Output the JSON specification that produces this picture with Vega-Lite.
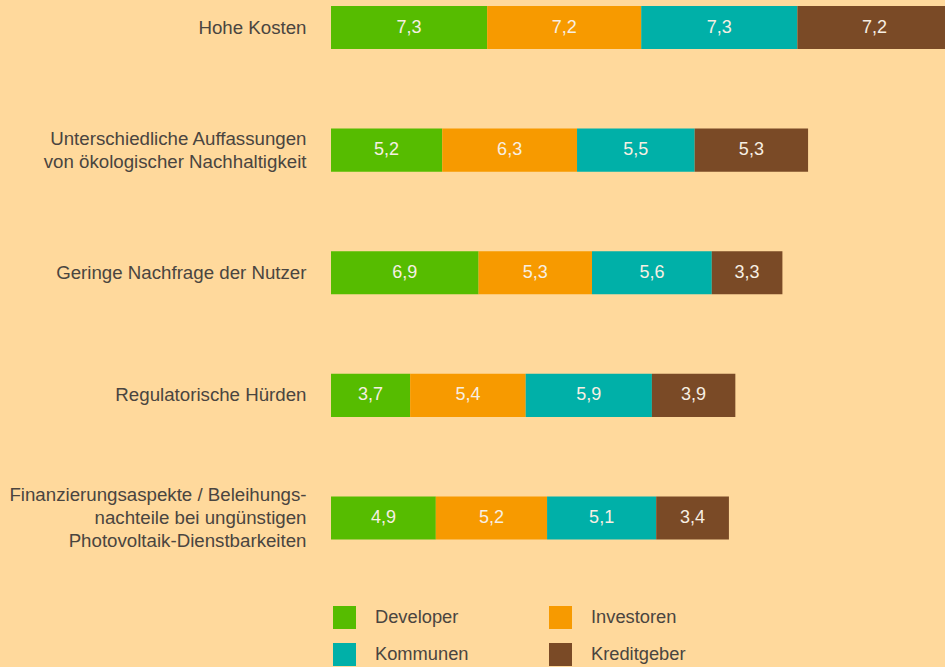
{
  "$schema": "https://vega.github.io/schema/vega-lite/v6.json",
  "width": 614,
  "height": 545.5,
  "autosize": {"type": "none"},
  "padding": {"left": 331, "top": 0, "right": 0, "bottom": 121.5},
  "background": "#FFD99C",
  "config": {
    "view": {"stroke": null},
    "font": "Liberation Sans",
    "locale": {"number": {"decimal": ",", "thousands": ".", "grouping": [3], "currency": ["", " €"]}}
  },
  "data": {
    "values": [
      {"kategorie": "Hohe Kosten", "gruppe": "Developer", "wert": 7.3},
      {"kategorie": "Hohe Kosten", "gruppe": "Investoren", "wert": 7.2},
      {"kategorie": "Hohe Kosten", "gruppe": "Kommunen", "wert": 7.3},
      {"kategorie": "Hohe Kosten", "gruppe": "Kreditgeber", "wert": 7.2},
      {"kategorie": "Unterschiedliche Auffassungen|von ökologischer Nachhaltigkeit", "gruppe": "Developer", "wert": 5.2},
      {"kategorie": "Unterschiedliche Auffassungen|von ökologischer Nachhaltigkeit", "gruppe": "Investoren", "wert": 6.3},
      {"kategorie": "Unterschiedliche Auffassungen|von ökologischer Nachhaltigkeit", "gruppe": "Kommunen", "wert": 5.5},
      {"kategorie": "Unterschiedliche Auffassungen|von ökologischer Nachhaltigkeit", "gruppe": "Kreditgeber", "wert": 5.3},
      {"kategorie": "Geringe Nachfrage der Nutzer", "gruppe": "Developer", "wert": 6.9},
      {"kategorie": "Geringe Nachfrage der Nutzer", "gruppe": "Investoren", "wert": 5.3},
      {"kategorie": "Geringe Nachfrage der Nutzer", "gruppe": "Kommunen", "wert": 5.6},
      {"kategorie": "Geringe Nachfrage der Nutzer", "gruppe": "Kreditgeber", "wert": 3.3},
      {"kategorie": "Regulatorische Hürden", "gruppe": "Developer", "wert": 3.7},
      {"kategorie": "Regulatorische Hürden", "gruppe": "Investoren", "wert": 5.4},
      {"kategorie": "Regulatorische Hürden", "gruppe": "Kommunen", "wert": 5.9},
      {"kategorie": "Regulatorische Hürden", "gruppe": "Kreditgeber", "wert": 3.9},
      {"kategorie": "Finanzierungsaspekte / Beleihungs-|nachteile bei ungünstigen|Photovoltaik-Dienstbarkeiten", "gruppe": "Developer", "wert": 4.9},
      {"kategorie": "Finanzierungsaspekte / Beleihungs-|nachteile bei ungünstigen|Photovoltaik-Dienstbarkeiten", "gruppe": "Investoren", "wert": 5.2},
      {"kategorie": "Finanzierungsaspekte / Beleihungs-|nachteile bei ungünstigen|Photovoltaik-Dienstbarkeiten", "gruppe": "Kommunen", "wert": 5.1},
      {"kategorie": "Finanzierungsaspekte / Beleihungs-|nachteile bei ungünstigen|Photovoltaik-Dienstbarkeiten", "gruppe": "Kreditgeber", "wert": 3.4}
    ]
  },
  "transform": [
    {"stack": "wert", "groupby": ["kategorie"], "sort": [{"field": "gruppe", "order": "ascending"}], "as": ["x0", "x1"]},
    {"calculate": "(datum.x0 + datum.x1) / 2", "as": "xm"}
  ],
  "encoding": {
    "y": {
      "field": "kategorie",
      "type": "nominal",
      "sort": null,
      "scale": {"type": "band", "paddingInner": 0.649, "paddingOuter": 0.049},
      "axis": {
        "title": null,
        "domain": false,
        "ticks": false,
        "labelPadding": 25,
        "labelFontSize": 18.7,
        "labelColor": "#4A4540",
        "labelLineHeight": 23,
        "labelAlign": "right",
        "labelBaseline": "middle",
        "labelLimit": 400,
        "labelExpr": "split(datum.label, '|')",
        "labelOffset": {
          "condition": [
            {"test": "length(split(datum.value, '|')) == 3", "value": -23},
            {"test": "length(split(datum.value, '|')) == 2", "value": -11.5}
          ],
          "value": 0
        }
      }
    }
  },
  "layer": [
    {
      "mark": {"type": "bar", "clip": true},
      "encoding": {
        "x": {"field": "x0", "type": "quantitative", "scale": {"domain": [0, 28.7], "nice": false, "zero": true}, "axis": null},
        "x2": {"field": "x1"},
        "color": {
          "field": "gruppe",
          "type": "nominal",
          "scale": {
            "domain": ["Developer", "Investoren", "Kommunen", "Kreditgeber"],
            "range": ["#56BC00", "#F79A00", "#00B0A8", "#7A4A26"]
          },
          "legend": {
            "title": null,
            "orient": "none",
            "legendX": 2,
            "legendY": 606,
            "columns": 2,
            "direction": "horizontal",
            "symbolType": "square",
            "symbolSize": 529,
            "symbolStrokeWidth": 0,
            "symbolOpacity": 1,
            "labelFontSize": 18.3,
            "labelColor": "#4A4540",
            "labelOffset": 19,
            "columnPadding": 80,
            "rowPadding": 14,
            "padding": 0
          }
        }
      }
    },
    {
      "mark": {"type": "text", "fontSize": 18, "color": "#F7EFE3", "align": "center", "baseline": "middle", "clip": true},
      "encoding": {
        "x": {"field": "xm", "type": "quantitative"},
        "text": {"field": "wert", "type": "quantitative", "format": ".1f"}
      }
    }
  ]
}
